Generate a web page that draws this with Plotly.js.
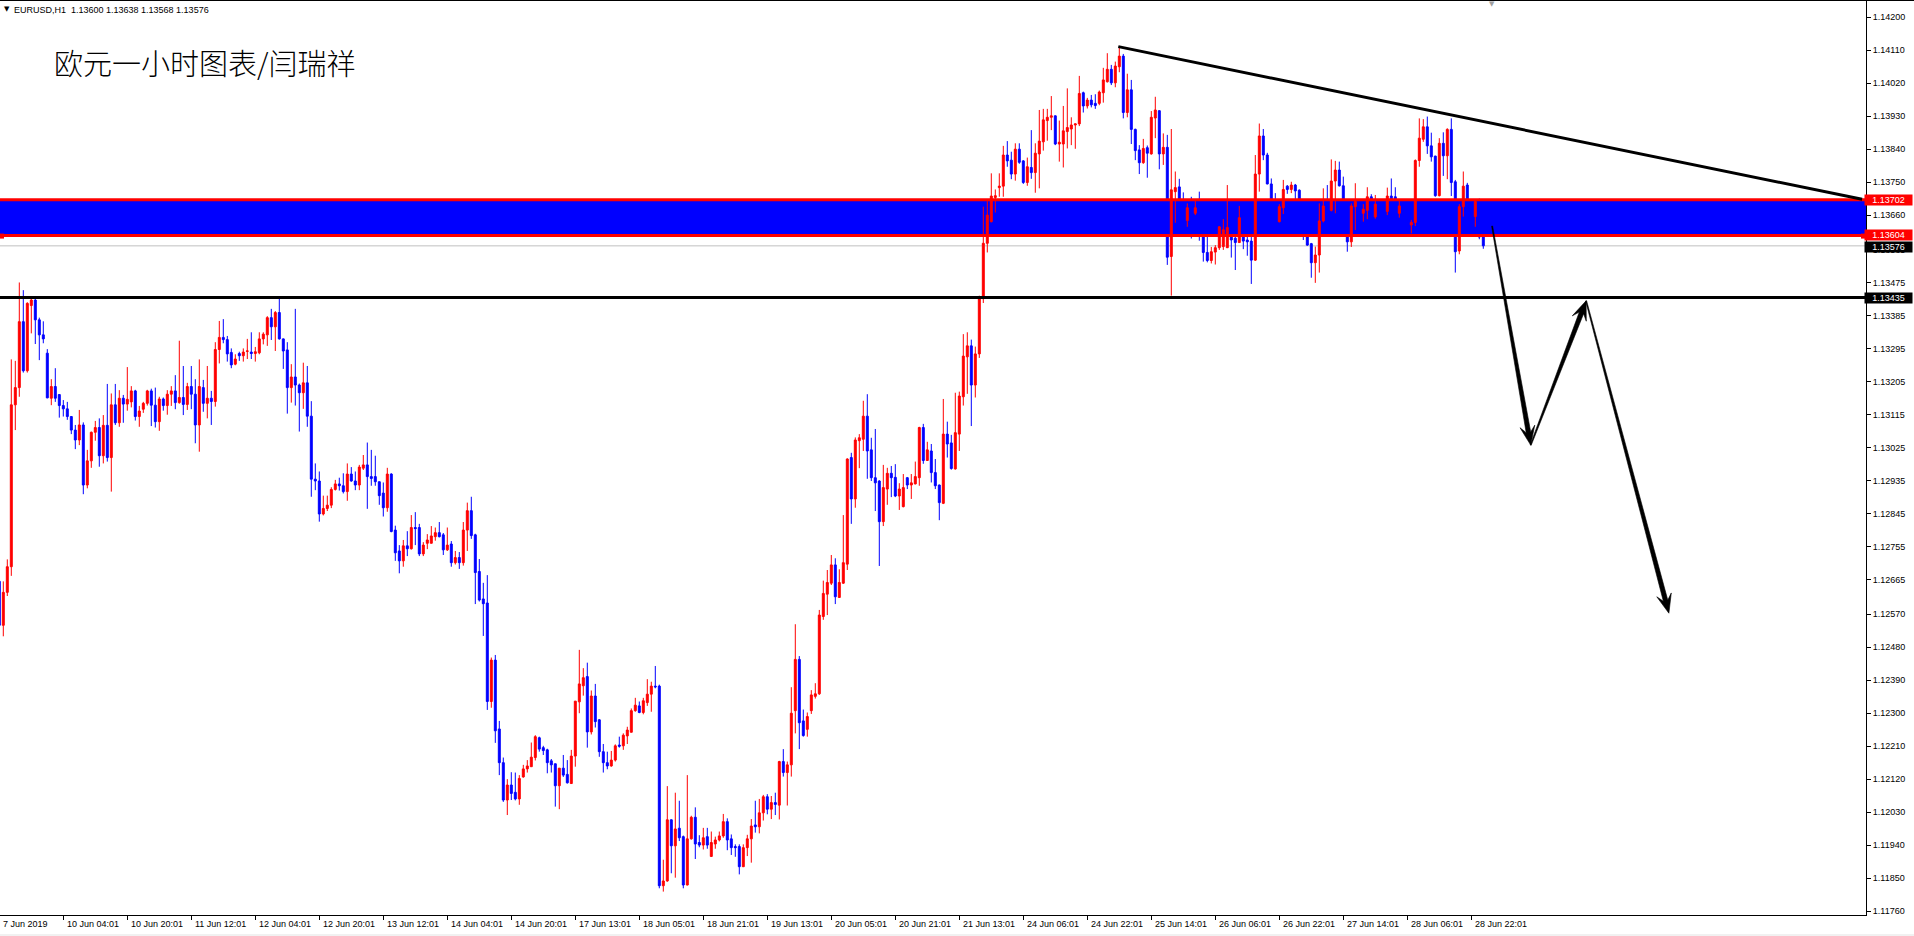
<!DOCTYPE html>
<html><head><meta charset="utf-8">
<script src="https://cdn.plot.ly/plotly-3.0.1.min.js"></script>
<style>html,body{margin:0;padding:0;background:#fff;overflow:hidden}#chart{width:1914px;height:936px}</style>
</head><body><div id="chart"></div>
<script>
// ---------------- DATA (EURUSD H1) ----------------
const open=[
1.1266,1.1254,1.1263,1.1270,1.13142,1.13189,1.13369,1.13235,1.13413,1.13428,
1.13374,1.13333,1.13283,1.13160,1.13192,1.13170,1.13140,1.13131,1.13110,1.13073,
1.13046,1.13087,1.12923,1.12989,1.13067,1.13080,1.13003,1.13086,1.12998,1.13142,
1.13093,1.13160,1.13144,1.13150,1.13180,1.13110,1.13130,1.13146,1.13180,1.13141,
1.13096,1.13158,1.13140,1.13171,1.13180,1.13148,1.13162,1.13143,1.13192,1.13171,
1.13087,1.13189,1.13146,1.13160,1.13151,1.13293,1.13326,1.13320,1.13285,1.13253,
1.13282,1.13276,1.13288,1.13286,1.13282,1.13284,1.13322,1.13333,1.13380,1.13355,
1.13394,1.13322,1.13292,1.13189,1.13218,1.13196,1.13175,1.13202,1.13111,1.12939,
1.12934,1.12844,1.12859,1.12868,1.12911,1.12926,1.12921,1.12905,1.12953,1.12934,
1.12923,1.12969,1.12978,1.12946,1.12946,1.12932,1.12901,1.12861,1.12953,1.12800,
1.12743,1.12716,1.12757,1.12749,1.12807,1.12807,1.12735,1.12764,1.12764,1.12782,
1.12793,1.12787,1.12746,1.12762,1.12711,1.12725,1.12711,1.12800,1.12853,1.12787,
1.12687,1.12612,1.12601,1.12332,1.12445,1.12257,1.12165,1.12063,1.12104,1.12084,
1.12066,1.12126,1.12148,1.12154,1.12179,1.12233,1.12206,1.12200,1.12170,1.12162,
1.12102,1.12150,1.12133,1.12108,1.12183,1.12331,1.12375,1.12400,1.12249,1.12347,
1.12282,1.12195,1.12165,1.12156,1.12172,1.12213,1.12211,1.12238,1.12248,1.12307,
1.12320,1.12302,1.12329,1.12352,1.12374,1.12374,1.11829,1.11842,1.12009,1.11938,
1.11986,1.11963,1.11831,1.11957,1.12016,1.11947,1.11940,1.11963,1.11909,1.11943,
1.11954,1.11965,1.12004,1.11957,1.11936,1.11936,1.11881,1.11933,1.11957,1.11995,
1.11990,1.12028,1.12072,1.12038,1.12056,1.12049,1.12168,1.12138,1.12159,1.12307,
1.12447,1.12279,1.12256,1.12307,1.12346,1.12353,1.12564,1.12625,1.12655,1.12705,
1.12616,1.12655,1.12707,1.12998,1.12885,1.13044,1.13048,1.13111,1.13019,1.12943,
1.12934,1.12823,1.12912,1.12955,1.12944,1.12893,1.12864,1.12943,1.12923,1.12926,
1.12943,1.13080,1.12990,1.13016,1.12957,1.12923,1.12873,1.13062,1.13038,1.12967,
1.13062,1.13164,1.13273,1.13303,1.13196,1.13281,1.13432,1.13583,1.13642,1.13708,
1.13735,1.13739,1.13824,1.13810,1.13772,1.13840,1.13808,1.13749,1.13790,1.13776,
1.13827,1.13860,1.13918,1.13927,1.13931,1.13854,1.13854,1.13888,1.13895,1.13906,
1.13909,1.13994,1.13958,1.13974,1.13965,1.13965,1.13994,1.14024,1.14058,1.14021,
1.14065,1.14094,1.13940,1.14002,1.13894,1.13838,1.13803,1.13844,1.13827,1.13925,
1.13945,1.13827,1.13845,1.13547,1.13724,1.13737,1.13700,1.13645,1.13700,1.13665,
1.13690,1.13605,1.13558,1.13536,1.13559,1.13571,1.13574,1.13571,1.13601,1.13597,
1.13585,1.13640,1.13592,1.13589,1.13537,1.13772,1.13876,1.13824,1.13745,1.13690,
1.13642,1.13680,1.13739,1.13730,1.13742,1.13728,1.13700,1.13601,1.13582,1.13530,
1.13551,1.13644,1.13690,1.13673,1.13753,1.13783,1.13740,1.13690,1.13587,1.13683,
1.13697,1.13665,1.13673,1.13710,1.13655,1.13690,1.13665,1.13670,1.13712,1.13710,
1.13665,1.13685,1.13670,1.13633,1.13640,1.13809,1.13867,1.13901,1.13849,1.13821,
1.13713,1.13856,1.13822,1.13894,1.13751,1.13562,1.13683,1.13742,1.13690,1.13656,
1.13700,1.13600];
const high=[
1.1268,1.1266,1.1272,1.13266,1.13262,1.13476,1.13455,1.13422,1.13433,1.13433,
1.13380,1.13370,1.13294,1.13212,1.13242,1.13170,1.13155,1.13150,1.13110,1.13087,
1.13128,1.13094,1.13019,1.13069,1.13098,1.13105,1.13114,1.13199,1.13173,1.13199,
1.13182,1.13169,1.13245,1.13193,1.13183,1.13139,1.13150,1.13183,1.13186,1.13189,
1.13164,1.13162,1.13182,1.13193,1.13223,1.13317,1.13248,1.13202,1.13248,1.13212,
1.13266,1.13210,1.13248,1.13180,1.13313,1.13371,1.13376,1.13330,1.13296,1.13280,
1.13287,1.13296,1.13322,1.13340,1.13300,1.13340,1.13340,1.13384,1.13404,1.13398,
1.13433,1.13323,1.13313,1.13253,1.13404,1.13200,1.13257,1.13248,1.13152,1.12982,
1.12960,1.12894,1.12894,1.12917,1.12937,1.12943,1.12955,1.12982,1.12972,1.12960,
1.12978,1.13005,1.13039,1.13019,1.13003,1.12932,1.12930,1.12970,1.12955,1.12812,
1.12759,1.12773,1.12797,1.12841,1.12849,1.12817,1.12767,1.12789,1.12811,1.12807,
1.12822,1.12792,1.12807,1.12770,1.12743,1.12740,1.12822,1.12875,1.12891,1.12790,
1.12721,1.12656,1.12677,1.12452,1.12459,1.12279,1.12179,1.12120,1.12139,1.12138,
1.12131,1.12159,1.12172,1.12220,1.12240,1.12236,1.12211,1.12203,1.12175,1.12162,
1.12150,1.12186,1.12172,1.12200,1.12333,1.12473,1.12423,1.12438,1.12362,1.12380,
1.12284,1.12216,1.12195,1.12197,1.12215,1.12236,1.12245,1.12263,1.12313,1.12342,
1.12332,1.12342,1.12393,1.12386,1.12429,1.12378,1.11900,1.12101,1.12010,1.12083,
1.12061,1.11966,1.12131,1.12020,1.12043,1.11967,1.11987,1.11987,1.11977,1.11963,
1.11977,1.12025,1.12013,1.11969,1.11942,1.11942,1.11942,1.11968,1.12011,1.12061,
1.12066,1.12077,1.12079,1.12074,1.12083,1.12170,1.12202,1.12168,1.12371,1.12543,
1.12456,1.12310,1.12302,1.12363,1.12382,1.12582,1.12662,1.12691,1.12732,1.12723,
1.12693,1.12841,1.12996,1.13011,1.13053,1.13062,1.13153,1.13171,1.13052,1.13076,
1.12936,1.12978,1.12970,1.12975,1.12980,1.12928,1.12953,1.12945,1.12953,1.12987,
1.13082,1.13090,1.13041,1.13035,1.12994,1.12924,1.13158,1.13096,1.13060,1.13175,
1.13178,1.13335,1.13340,1.13320,1.13301,1.13440,1.13683,1.13701,1.13774,1.13730,
1.13774,1.13849,1.13862,1.13833,1.13856,1.13856,1.13810,1.13817,1.13892,1.13856,
1.13947,1.13950,1.13950,1.13985,1.13932,1.13918,1.13958,1.14006,1.13927,1.13910,
1.14040,1.13997,1.13980,1.13988,1.13990,1.14000,1.14062,1.14102,1.14070,1.14079,
1.14120,1.14100,1.14046,1.14029,1.13896,1.13851,1.13868,1.13850,1.13944,1.13983,
1.13946,1.13883,1.13879,1.13895,1.13779,1.13759,1.13722,1.13692,1.13710,1.13700,
1.13724,1.13612,1.13610,1.13573,1.13578,1.13630,1.13649,1.13742,1.13607,1.13615,
1.13685,1.13645,1.13610,1.13600,1.13824,1.13910,1.13895,1.13830,1.13760,1.13720,
1.13690,1.13756,1.13742,1.13751,1.13745,1.13730,1.13702,1.13603,1.13584,1.13574,
1.13692,1.13733,1.13742,1.13812,1.13808,1.13806,1.13765,1.13700,1.13692,1.13747,
1.13700,1.13690,1.13736,1.13717,1.13715,1.13700,1.13690,1.13735,1.13760,1.13736,
1.13700,1.13695,1.13690,1.13647,1.13812,1.13924,1.13922,1.13929,1.13885,1.13822,
1.13870,1.13886,1.13897,1.13924,1.13756,1.13690,1.13779,1.13748,1.13700,1.13700,
1.13705,1.13638];
const low=[
1.1252,1.1251,1.1262,1.12675,1.13073,1.13164,1.13230,1.13230,1.13337,1.13308,
1.13264,1.13310,1.13160,1.13141,1.13150,1.13107,1.13110,1.13101,1.13062,1.13021,
1.13032,1.12898,1.12914,1.12970,1.13044,1.12973,1.12982,1.12987,1.12905,1.13087,
1.13082,1.13093,1.13126,1.13135,1.13099,1.13082,1.13120,1.13140,1.13084,1.13080,
1.13071,1.13126,1.13115,1.13139,1.13130,1.13145,1.13114,1.13128,1.13130,1.13037,
1.13014,1.13123,1.13105,1.13087,1.13137,1.13255,1.13310,1.13260,1.13242,1.13250,
1.13262,1.13260,1.13267,1.13267,1.13260,1.13280,1.13307,1.13303,1.13319,1.13289,
1.13320,1.13240,1.13118,1.13148,1.13140,1.13069,1.13131,1.13082,1.12891,1.12909,
1.12823,1.12840,1.12852,1.12860,1.12908,1.12908,1.12900,1.12880,1.12932,1.12909,
1.12909,1.12964,1.12858,1.12921,1.12921,1.12869,1.12837,1.12850,1.12794,1.12716,
1.12682,1.12700,1.12729,1.12747,1.12759,1.12729,1.12729,1.12748,1.12764,1.12771,
1.12780,1.12732,1.12743,1.12700,1.12706,1.12694,1.12703,1.12743,1.12776,1.12598,
1.12605,1.12511,1.12309,1.12315,1.12219,1.12131,1.12058,1.12022,1.12063,1.12062,
1.12050,1.12124,1.12138,1.12154,1.12171,1.12195,1.12186,1.12136,1.12138,1.12045,
1.12038,1.12126,1.12108,1.12108,1.12154,1.12300,1.12348,1.12206,1.12242,1.12261,
1.12181,1.12138,1.12147,1.12154,1.12168,1.12206,1.12200,1.12216,1.12248,1.12304,
1.12300,1.12297,1.12320,1.12304,1.12368,1.11822,1.11813,1.11840,1.11863,1.11851,
1.11951,1.11822,1.11830,1.11955,1.11902,1.11934,1.11928,1.11930,1.11908,1.11930,
1.11950,1.11960,1.11926,1.11913,1.11908,1.11860,1.11880,1.11910,1.11892,1.11974,
1.11972,1.12007,1.12024,1.12011,1.12022,1.12010,1.12127,1.12048,1.12127,1.12245,
1.12202,1.12236,1.12236,1.12298,1.12340,1.12350,1.12555,1.12568,1.12650,1.12598,
1.12616,1.12653,1.12691,1.12817,1.12861,1.12969,1.13016,1.12940,1.12934,1.12852,
1.12702,1.12811,1.12869,1.12890,1.12890,1.12855,1.12862,1.12912,1.12885,1.12925,
1.12921,1.12981,1.12989,1.12930,1.12912,1.12827,1.12871,1.12998,1.12965,1.12965,
1.13016,1.13140,1.13172,1.13084,1.13162,1.13270,1.13420,1.13558,1.13640,1.13667,
1.13710,1.13710,1.13792,1.13758,1.13754,1.13800,1.13745,1.13740,1.13759,1.13721,
1.13733,1.13836,1.13863,1.13892,1.13851,1.13806,1.13790,1.13842,1.13851,1.13841,
1.13903,1.13940,1.13951,1.13954,1.13950,1.13960,1.13967,1.14022,1.14015,1.14009,
1.14050,1.13924,1.13927,1.13854,1.13810,1.13772,1.13800,1.13762,1.13825,1.13870,
1.13785,1.13797,1.13524,1.13440,1.13639,1.13690,1.13690,1.13628,1.13596,1.13660,
1.13590,1.13533,1.13531,1.13528,1.13525,1.13565,1.13565,1.13570,1.13544,1.13510,
1.13585,1.13567,1.13549,1.13472,1.13535,1.13724,1.13810,1.13744,1.13680,1.13640,
1.13640,1.13663,1.13718,1.13720,1.13700,1.13680,1.13592,1.13576,1.13489,1.13475,
1.13503,1.13640,1.13660,1.13670,1.13665,1.13738,1.13680,1.13560,1.13573,1.13619,
1.13640,1.13642,1.13649,1.13640,1.13650,1.13650,1.13640,1.13660,1.13680,1.13670,
1.13653,1.13640,1.13620,1.13610,1.13630,1.13792,1.13860,1.13827,1.13806,1.13710,
1.13711,1.13767,1.13758,1.13712,1.13503,1.13553,1.13656,1.13670,1.13650,1.13628,
1.13594,1.13568];
const close=[
1.1254,1.1263,1.1270,1.13142,1.13189,1.13369,1.13235,1.13419,1.13428,1.13374,
1.13333,1.13322,1.13161,1.13192,1.13160,1.13140,1.13131,1.13110,1.13073,1.13046,
1.13087,1.12923,1.12989,1.13067,1.13080,1.13003,1.13086,1.12998,1.13142,1.13093,
1.13160,1.13144,1.13157,1.13180,1.13110,1.13125,1.13146,1.13180,1.13141,1.13096,
1.13158,1.13140,1.13171,1.13180,1.13148,1.13162,1.13143,1.13192,1.13171,1.13087,
1.13192,1.13146,1.13160,1.13151,1.13293,1.13326,1.13320,1.13281,1.13251,1.13267,
1.13276,1.13286,1.13289,1.13282,1.13287,1.13322,1.13335,1.13380,1.13355,1.13394,
1.13322,1.13289,1.13189,1.13218,1.13196,1.13175,1.13202,1.13111,1.12939,1.12934,
1.12844,1.12859,1.12868,1.12911,1.12926,1.12921,1.12905,1.12953,1.12934,1.12923,
1.12972,1.12978,1.12946,1.12941,1.12932,1.12894,1.12861,1.12953,1.12796,1.12738,
1.12716,1.12757,1.12749,1.12807,1.12804,1.12735,1.12759,1.12773,1.12784,1.12793,
1.12782,1.12746,1.12759,1.12711,1.12725,1.12711,1.12800,1.12853,1.12785,1.12684,
1.12609,1.12599,1.12332,1.12445,1.12252,1.12165,1.12063,1.12104,1.12081,1.12066,
1.12122,1.12148,1.12156,1.12180,1.12236,1.12202,1.12198,1.12165,1.12159,1.12102,
1.12150,1.12131,1.12110,1.12183,1.12333,1.12380,1.12397,1.12249,1.12347,1.12277,
1.12195,1.12165,1.12156,1.12172,1.12211,1.12210,1.12240,1.12254,1.12307,1.12322,
1.12302,1.12334,1.12352,1.12374,1.12372,1.11829,1.11842,1.12009,1.11938,1.11984,
1.11960,1.11831,1.11957,1.12016,1.11943,1.11940,1.11960,1.11940,1.11947,1.11954,
1.11965,1.12004,1.11954,1.11933,1.11933,1.11881,1.11933,1.11957,1.11992,1.11990,
1.12028,1.12072,1.12038,1.12056,1.12051,1.12168,1.12138,1.12159,1.12300,1.12447,
1.12274,1.12239,1.12291,1.12350,1.12353,1.12568,1.12627,1.12657,1.12705,1.12618,
1.12657,1.12711,1.12994,1.12885,1.13046,1.13052,1.13111,1.13016,1.12943,1.12929,
1.12823,1.12916,1.12955,1.12943,1.12893,1.12912,1.12916,1.12923,1.12929,1.12946,
1.13080,1.12990,1.13019,1.12957,1.12921,1.12875,1.13062,1.13035,1.12968,1.13066,
1.13166,1.13275,1.13303,1.13196,1.13281,1.13432,1.13583,1.13660,1.13712,1.13713,
1.13739,1.13824,1.13808,1.13772,1.13840,1.13804,1.13749,1.13792,1.13776,1.13829,
1.13862,1.13920,1.13927,1.13931,1.13854,1.13859,1.13890,1.13899,1.13906,1.13909,
1.13992,1.13958,1.13974,1.13961,1.13959,1.13996,1.14029,1.14058,1.14021,1.14067,
1.14094,1.13940,1.14002,1.13894,1.13836,1.13803,1.13842,1.13829,1.13927,1.13947,
1.13827,1.13845,1.13545,1.13729,1.13735,1.13697,1.13696,1.13680,1.13620,1.13680,
1.13605,1.13558,1.13536,1.13560,1.13571,1.13628,1.13620,1.13626,1.13592,1.13585,
1.13653,1.13589,1.13587,1.13537,1.13772,1.13876,1.13824,1.13745,1.13690,1.13660,
1.13683,1.13730,1.13730,1.13742,1.13726,1.13700,1.13605,1.13578,1.13530,1.13551,
1.13644,1.13685,1.13675,1.13753,1.13783,1.13740,1.13690,1.13587,1.13685,1.13697,
1.13660,1.13676,1.13710,1.13655,1.13690,1.13660,1.13660,1.13712,1.13700,1.13690,
1.13685,1.13670,1.13635,1.13640,1.13809,1.13870,1.13901,1.13849,1.13819,1.13713,
1.13856,1.13822,1.13894,1.13749,1.13560,1.13683,1.13739,1.13680,1.13665,1.13697,
1.13600,1.13576];

// bottom axis labels (one every 16 bars)
const xTickText=["7 Jun 2019","10 Jun 04:01","10 Jun 20:01","11 Jun 12:01","12 Jun 04:01","12 Jun 20:01",
"13 Jun 12:01","14 Jun 04:01","14 Jun 20:01","17 Jun 13:01","18 Jun 05:01","18 Jun 21:01","19 Jun 13:01",
"20 Jun 05:01","20 Jun 21:01","21 Jun 13:01","24 Jun 06:01","24 Jun 22:01","25 Jun 14:01","26 Jun 06:01",
"26 Jun 22:01","27 Jun 14:01","28 Jun 06:01","28 Jun 22:01"];
const xTickStep=16;
// right axis price labels
const yTickVals=[1.14200,1.14110,1.14020,1.13930,1.13840,1.13750,1.13660,1.13565,1.13475,1.13385,
1.13295,1.13205,1.13115,1.13025,1.12935,1.12845,1.12755,1.12665,1.12570,1.12480,1.12390,1.12300,
1.12210,1.12120,1.12030,1.11940,1.11850,1.11760];
// horizontal levels drawn on the chart
const zoneTop=1.13702, zoneBottom=1.13604, bidPrice=1.13576, supportLevel=1.13435;
// trend line (bar index, price)
const trendStart=[279.75,1.14120], trendEnd=[465.7,1.13703];
// projected path (bar index, price)
const pathPts=[[373.2,1.13630],[382.85,1.13032],[396.7,1.13426],[417.4,1.12573]];
const headerText="EURUSD,H1 \u00a01.13600 1.13638 1.13568 1.13576";
const titleText="欧元一小时图表/闫瑞祥";

// ---------------- LAYOUT GEOMETRY ----------------
const W=1914,H=936,ML=0,MR=48,MT=1,MB=21;
const PW=W-ML-MR, PH=H-MT-MB;
const XR=[0.175,466.675], YR=[1.117491,1.142445];
const xPx=v=>ML+(v-XR[0])/(XR[1]-XR[0])*PW;
const yPx=v=>MT+(YR[1]-v)/(YR[1]-YR[0])*PH;
const xVal=p=>XR[0]+(p-ML)/PW*(XR[1]-XR[0]);
const yVal=p=>YR[1]-(p-MT)/PH*(YR[1]-YR[0]);
const pX=p=>(p-ML)/PW;
const pY=p=>(H-MB-p)/PH;

const idx=close.map((_,i)=>i);
const tickIdx=xTickText.map((_,k)=>k*xTickStep);

function arrowPath(a,b){
  const T=[xPx(a[0]),yPx(a[1])], Hd=[xPx(b[0]),yPx(b[1])];
  const dx=Hd[0]-T[0], dy=Hd[1]-T[1], L=Math.hypot(dx,dy);
  const d=[dx/L,dy/L], n=[-d[1],d[0]];
  const P=(base,along,side)=>[base[0]+d[0]*along+n[0]*side, base[1]+d[1]*along+n[1]*side];
  const pts=[P(T,0,0.5),P(Hd,-13,2.3),P(Hd,-19,7.5),P(Hd,0,0),P(Hd,-19,-7.5),P(Hd,-13,-2.3),P(T,0,-0.5)];
  return 'M'+pts.map(q=>xVal(q[0]).toFixed(4)+','+yVal(q[1]).toFixed(6)).join(' L')+' Z';
}

const shapes=[
  {type:'rect',xref:'paper',yref:'y',x0:0,x1:1,y0:zoneBottom,y1:zoneTop,fillcolor:'#0000FF',line:{width:0},layer:'below'},
  {type:'line',xref:'paper',yref:'y',x0:0,x1:1,y0:bidPrice,y1:bidPrice,line:{color:'#C0C0C0',width:1},layer:'below'},
  {type:'line',xref:'paper',yref:'y',x0:0,x1:1,y0:zoneTop,y1:zoneTop,line:{color:'#FF0000',width:3},layer:'above'},
  {type:'line',xref:'paper',yref:'y',x0:0,x1:1,y0:zoneBottom,y1:zoneBottom,line:{color:'#FF0000',width:3},layer:'above'},
  {type:'line',xref:'paper',yref:'y',x0:0,x1:1,y0:supportLevel,y1:supportLevel,line:{color:'#000000',width:3},layer:'above'},
  {type:'line',xref:'x',yref:'y',x0:trendStart[0],y0:trendStart[1],x1:trendEnd[0],y1:trendEnd[1],line:{color:'#000000',width:3},layer:'above'},
  {type:'rect',xref:'paper',yref:'paper',x0:pX(0),x1:pX(4),y0:pY(yPx(zoneBottom)+3),y1:pY(yPx(zoneBottom)-2),fillcolor:'#FF0000',line:{width:0},layer:'above'},
  {type:'rect',xref:'paper',yref:'paper',x0:pX(PW-5),x1:pX(PW),y0:pY(yPx(zoneBottom)+3),y1:pY(yPx(zoneBottom)-2),fillcolor:'#FF0000',line:{width:0},layer:'above'},
  {type:'line',xref:'paper',yref:'paper',x0:0,x1:W/PW,y0:pY(0.5),y1:pY(0.5),line:{color:'#000000',width:1}},
  {type:'line',xref:'paper',yref:'paper',x0:0,x1:W/PW,y0:pY(935),y1:pY(935),line:{color:'#E3E3E3',width:1}}
];
for(let k=0;k<pathPts.length-1;k++){
  shapes.push({type:'path',xref:'x',yref:'y',path:arrowPath(pathPts[k],pathPts[k+1]),fillcolor:'#000000',line:{color:'#000000',width:0.6},layer:'above'});
}

const F='Liberation Sans, Arial, sans-serif';
const annotations=[
  {xref:'paper',yref:'paper',x:pX(1.5),y:pY(9.5),xanchor:'left',yanchor:'middle',text:'▼',showarrow:false,font:{family:'DejaVu Sans',size:7,color:'#000'}},
  {xref:'paper',yref:'paper',x:pX(12),y:pY(10),xanchor:'left',yanchor:'middle',text:headerText,showarrow:false,font:{family:F,size:9,color:'#000'}},
  {xref:'paper',yref:'paper',x:pX(52),y:pY(62),xanchor:'left',yanchor:'middle',text:titleText,showarrow:false,font:{family:'Noto Sans CJK SC',size:29,color:'#000',weight:300}},
  {xref:'paper',yref:'paper',x:pX(1492),y:pY(4),xanchor:'center',yanchor:'middle',text:'▼',showarrow:false,font:{family:'DejaVu Sans',size:7,color:'#A0A0A0'}}
];
xTickText.forEach((t,k)=>{
  annotations.push({xref:'x',yref:'paper',x:tickIdx[k]+0.5,y:pY(924),xanchor:'left',yanchor:'middle',text:t,showarrow:false,font:{family:F,size:9,color:'#000'}});
});
[[zoneTop,'#FF0000',0],[zoneBottom,'#FF0000',1],[bidPrice,'#000000',-1],[supportLevel,'#000000',0]].forEach(([v,c,s])=>{
  annotations.push({xref:'paper',yref:'y',x:1,xshift:-2,y:v,yshift:s,xanchor:'left',yanchor:'middle',text:v.toFixed(5),showarrow:false,
    bgcolor:c,borderpad:0,width:47,height:10,align:'center',font:{family:F,size:9,color:'#FFFFFF'}});
});

const trace={type:'candlestick',x:idx,open:open,high:high,low:low,close:close,
  increasing:{line:{color:'#FF0000',width:1},fillcolor:'#FF0000'},
  decreasing:{line:{color:'#0000FF',width:1},fillcolor:'#0000FF'},
  whiskerwidth:0,hoverinfo:'skip',showlegend:false};

const layout={width:W,height:H,margin:{l:ML,r:MR,t:MT,b:MB,pad:0},
  paper_bgcolor:'#FFFFFF',plot_bgcolor:'#FFFFFF',showlegend:false,font:{family:F,size:9,color:'#000'},
  xaxis:{range:XR,type:'linear',showgrid:false,zeroline:false,showline:true,linecolor:'#000',linewidth:1,
    ticks:'outside',ticklen:4,tickcolor:'#000',tickwidth:1,tickmode:'array',tickvals:tickIdx,showticklabels:false,
    rangeslider:{visible:false},fixedrange:true},
  yaxis:{range:YR,side:'right',showgrid:false,zeroline:false,showline:true,linecolor:'#000',linewidth:1,
    ticks:'outside',ticklen:4,tickcolor:'#000',tickwidth:1,tickmode:'array',tickvals:yTickVals,
    ticktext:yTickVals.map(v=>v.toFixed(5)),tickfont:{family:F,size:9,color:'#000'},fixedrange:true},
  shapes:shapes,annotations:annotations};

Plotly.newPlot('chart',[trace],layout,{staticPlot:true,displayModeBar:false});
</script></body></html>
